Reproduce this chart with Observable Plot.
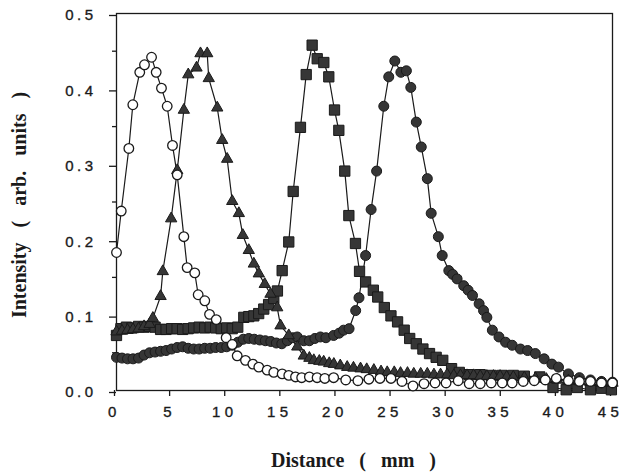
<!DOCTYPE html>
<html><head><meta charset="utf-8">
<script src="https://cdn.jsdelivr.net/npm/d3@7"></script>
<script src="https://cdn.jsdelivr.net/npm/@observablehq/plot@0.6"></script>
<style>
body{margin:0;background:#fff}
g[aria-label="x-axis tick label"] text, g[aria-label="y-axis tick label"] text{font-size:15px !important;font-family:"Liberation Sans",Arial,sans-serif !important;letter-spacing:3.5px;stroke:#1a1a1a;stroke-width:0.35px}
g[aria-label="x-axis tick label"] text{letter-spacing:4.5px}
g[font-family^="Liberation Serif"] text{word-spacing:10px}
</style></head><body><div id="chart"></div><script>
// Open circles
const openX = [0,0.43,1.12,1.48,2.11,2.54,3.18,3.60,4.08,4.60,5.08,5.51,6.11,6.41,7.10,7.41,8.01,8.44,9.05,9.95,10.50,10.95,11.70,12.37,12.91,13.67,14.27,15.03,15.63,16.24,16.8,17.5,18.2,18.9,19.7,20.8,21.9,22.9,23.9,24.9,25.9,26.9,27.9,28.9,29.9,31.0,32.0,33.0,34.0,35.0,35.9,36.9,37.9,38.9,39.9,41.0,42.0,43.0,44.0,45.0];
const openY = [0.183,0.238,0.321,0.379,0.422,0.432,0.442,0.422,0.401,0.377,0.325,0.286,0.204,0.163,0.156,0.127,0.119,0.101,0.094,0.070,0.061,0.046,0.040,0.035,0.031,0.027,0.024,0.022,0.020,0.018,0.017,0.018,0.017,0.016,0.017,0.014,0.013,0.015,0.016,0.016,0.012,0.006,0.009,0.010,0.010,0.013,0.009,0.009,0.010,0.010,0.010,0.012,0.013,0.014,0.016,0.013,0.012,0.012,0.010,0.010];
// Triangles
const triX = [0,0.5,1.0,1.5,2.0,2.5,3.0,3.3,4.0,4.2,4.96,5.51,6.11,6.51,7.26,7.62,8.23,8.37,9.14,9.59,10.04,10.5,11.1,11.46,12.0,12.46,12.91,13.45,13.97,14.58,14.88,15.63,16.4,16.99,17.5,17.9,18.4,18.8,19.3,19.72,20.3,20.93,21.5,22.14,22.7,23.35,24.0,24.56,25.2,25.77,26.4,26.97,27.6,28.2,28.8,29.4,30.0,30.6,31.2,31.8,32.4,33.0,33.6,34.2,34.8,35.4,36.0,37.0,38.0,39.0,40.0,41.0,42.0,43.0,44.0,45.0];
const triY = [0.078,0.079,0.080,0.081,0.082,0.085,0.088,0.096,0.125,0.158,0.228,0.292,0.372,0.419,0.428,0.447,0.447,0.414,0.375,0.332,0.307,0.251,0.235,0.206,0.186,0.168,0.155,0.141,0.128,0.110,0.086,0.073,0.058,0.046,0.043,0.040,0.039,0.038,0.036,0.035,0.033,0.031,0.030,0.029,0.028,0.027,0.025,0.024,0.024,0.023,0.023,0.022,0.022,0.022,0.021,0.021,0.021,0.020,0.020,0.020,0.020,0.019,0.019,0.019,0.019,0.018,0.018,0.017,0.016,0.015,0.014,0.013,0.012,0.011,0.010,0.010];
// Squares
const sqX = [0,0.4,0.9,1.4,2.0,2.5,3.0,3.5,4.0,4.5,5.0,5.5,6.0,6.5,7.0,7.5,8.0,8.5,9.0,9.5,10.0,10.5,11.0,11.55,12.0,12.46,12.9,13.36,13.8,14.27,14.6,15.03,15.63,16.03,16.69,17.21,17.75,18.21,18.81,19.26,19.78,20.17,20.71,21.08,21.68,22.05,22.6,23.3,23.7,24.3,24.9,25.5,26.1,26.6,27.2,27.8,28.4,29.0,29.6,30.4,31.1,32.0,33.0,34.0,35.0,36.0,37.0,38.4,39.6,40.8,41.8,43.0,44.0,44.9];
const sqY = [0.073,0.082,0.084,0.083,0.085,0.084,0.085,0.084,0.081,0.081,0.082,0.082,0.081,0.082,0.083,0.084,0.083,0.084,0.083,0.082,0.083,0.082,0.084,0.097,0.098,0.099,0.102,0.108,0.114,0.122,0.132,0.159,0.197,0.264,0.349,0.419,0.458,0.440,0.435,0.416,0.372,0.345,0.291,0.232,0.195,0.158,0.144,0.133,0.124,0.110,0.099,0.091,0.080,0.069,0.062,0.055,0.049,0.044,0.040,0.029,0.024,0.021,0.021,0.020,0.020,0.020,0.019,0.018,0.004,0.001,0.004,0.001,0.003,0.001];
// Filled circles
const fcX = [0,0.5,1.0,1.5,2.0,2.5,3.0,3.5,4.0,4.5,5.0,5.5,6.0,6.5,7.0,7.5,8.0,8.5,9.0,9.5,10.0,10.5,11.0,11.5,12.0,12.5,13.0,13.5,14.0,14.5,15.0,15.5,16.0,16.4,17.0,17.5,18.0,18.5,19.0,19.7,20.2,20.6,21.1,21.7,22.0,22.6,23.1,23.6,24.25,24.7,25.25,25.8,26.3,26.7,27.2,27.65,28.2,28.55,29.2,29.55,30.15,30.5,30.9,31.5,31.9,32.3,32.9,33.3,33.6,34.1,34.7,35.3,35.9,36.65,37.3,38.0,38.8,39.5,40.1,41.0,42.0,43.0,44.0,45.0];
const fcY = [0.044,0.043,0.042,0.042,0.043,0.047,0.050,0.051,0.052,0.053,0.055,0.057,0.058,0.056,0.055,0.055,0.056,0.056,0.057,0.057,0.058,0.060,0.064,0.068,0.069,0.068,0.067,0.066,0.065,0.063,0.062,0.066,0.070,0.071,0.066,0.066,0.069,0.071,0.070,0.073,0.076,0.080,0.082,0.106,0.123,0.179,0.240,0.291,0.377,0.416,0.437,0.422,0.424,0.402,0.356,0.323,0.281,0.235,0.204,0.179,0.159,0.154,0.148,0.139,0.133,0.126,0.115,0.106,0.097,0.080,0.071,0.064,0.060,0.055,0.053,0.049,0.042,0.035,0.031,0.022,0.017,0.014,0.012,0.011];
// Ticks
const xTicks = [0,5,10,15,20,25,30,35,40,45];
const yTicks = [0,0.1,0.2,0.3,0.4,0.5];
const yMinor = [0.05,0.15,0.25,0.35,0.45];
const xTitle = "Distance ( mm )";
const yTitle = "Intensity ( arb. units )";

const rows = (xs, ys) => xs.map((x, i) => ({x, y: ys[i]}));
const openD = rows(openX, openY), triD = rows(triX, triY), sqD = rows(sqX, sqY), fcD = rows(fcX, fcY);
const ink = "#1a1a1a", fillDark = "#363636";
const serif = "Liberation Serif, Times New Roman, serif";

const chart = Plot.plot({
  width: 623, height: 475,
  marginLeft: 116, marginRight: 11, marginTop: 13, marginBottom: 85,
  x: {domain: [0, 45]},
  y: {domain: [0, 0.5]},
  style: {background: "#fff", color: ink},
  marks: [
    Plot.frame({stroke: ink, strokeWidth: 1.3}),
    Plot.axisX(xTicks, {tickSize: 6, tickPadding: 10, dx: -2, label: null, stroke: ink, strokeWidth: 1.3}),
    Plot.axisY(yTicks, {tickSize: 7, tickPadding: 13, dy: 2, tickFormat: d3.format(".1f"), label: null, stroke: ink, strokeWidth: 1.3}),
    Plot.axisY(yMinor, {tickSize: 4, tickFormat: null, text: null, label: null, stroke: ink, strokeWidth: 1.3}),
    Plot.line(fcD, {x: "x", y: "y", stroke: ink, strokeWidth: 1.2}),
    Plot.line(sqD, {x: "x", y: "y", stroke: ink, strokeWidth: 1.2}),
    Plot.line(triD, {x: "x", y: "y", stroke: ink, strokeWidth: 1.2}),
    Plot.line(openD, {x: "x", y: "y", stroke: ink, strokeWidth: 1.2}),
    Plot.dot(fcD, {x: "x", y: "y", r: 5, symbol: "circle", fill: fillDark, stroke: ink, strokeWidth: 1}),
    Plot.dot(sqD, {x: "x", y: "y", r: 5.8, symbol: "square", fill: fillDark, stroke: ink, strokeWidth: 1}),
    Plot.dot(triD, {x: "x", y: "y", r: 4.2, symbol: "triangle", fill: fillDark, stroke: ink, strokeWidth: 1}),
    Plot.dot(openD, {x: "x", y: "y", r: 4.8, symbol: "circle", fill: "#fff", stroke: ink, strokeWidth: 1.3}),
    Plot.text([xTitle], {frameAnchor: "bottom", dy: 70, dx: -11, textAnchor: "middle", lineAnchor: "middle", fontSize: 20, fontWeight: "bold", fontFamily: serif, fill: ink}),
    Plot.text([yTitle], {frameAnchor: "left", dx: -97, dy: 3, rotate: -90, textAnchor: "middle", lineAnchor: "middle", fontSize: 20, fontWeight: "bold", fontFamily: serif, fill: ink})
  ]
});
document.getElementById("chart").append(chart);
</script></body></html>
